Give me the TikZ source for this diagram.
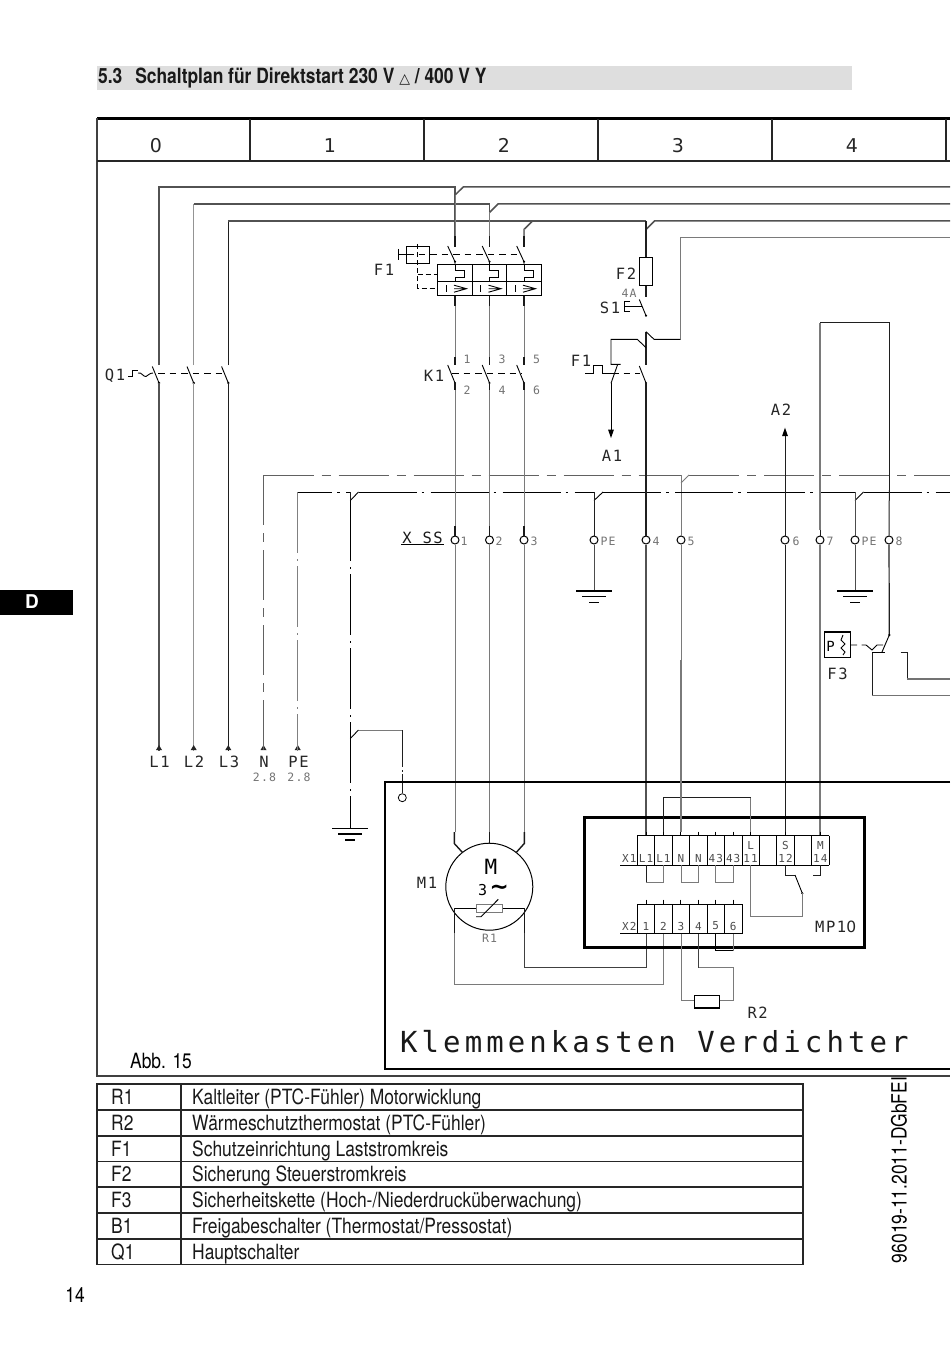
\documentclass[tikz,border=0pt]{standalone}
\usepackage{fontspec}
\usetikzlibrary{calc}
\setmainfont{TeX Gyre Heros}
\newfontfamily\narrowf[FakeStretch=0.83]{TeX Gyre Heros}
\newfontfamily\cad[LetterSpace=10]{DejaVu Sans Mono}
\newfontfamily\cadk[LetterSpace=14]{DejaVu Sans Mono}
\newfontfamily\cadz{DejaVu Sans}
\tikzset{
  wk/.style={draw=black!88,line width=1pt},
  wd/.style={draw=black!68,line width=1.5pt},
  wg/.style={draw=black!52,line width=1pt},
  wgg/.style={draw=black!42,line width=1.4pt},
  tick/.style={draw=black!90,line width=1.4pt},
  sym/.style={draw=black,line width=.9pt},
  symdash/.style={draw=black,line width=.9pt,dash pattern=on 6.5pt off 5pt},
  nline/.style={draw=black!62,line width=.9pt,dash pattern=on 50pt off 8pt on 9pt off 8pt},
  peline/.style={draw=black,line width=1pt,dash pattern=on 58pt off 5pt on 2.5pt off 6.5pt},
  pevert/.style={draw=black,line width=1pt,dash pattern=on 61pt off 6pt on 2pt off 5pt},
  lab/.style={inner sep=0pt,font=\cad\fontsize{15.5}{15.5}\selectfont,text=black!85},
  small/.style={inner sep=0pt,font=\cad\fontsize{11.5}{11.5}\selectfont,text=black!55},
  cell/.style={inner sep=0pt,font=\cad\fontsize{11}{11}\selectfont,text=black!70},
  term/.style={circle,draw=black,line width=1pt,fill=white,inner sep=0pt,minimum size=8pt},
  rowtxt/.style={anchor=base west,inner sep=0pt,font=\narrowf\fontsize{21}{21}\selectfont,text=black!90},
}
\begin{document}
\begin{tikzpicture}[x=1pt,y=-1pt]
\useasboundingbox (0,0) rectangle (950,1348);
% --- page furniture
\fill[black!13] (97,66) rectangle (852,90);
\node[anchor=base west,inner sep=0pt,font=\narrowf\bfseries\fontsize{21}{21}\selectfont,text=black!90] (title) at (98,84) {5.3\hspace{8pt} Schaltplan für Direktstart 230 V {\cadz\fontsize{14}{14}\selectfont △} / 400 V Y};
\fill[black] (0,590) rectangle (73,615);
\node[inner sep=0pt,text=white,font=\bfseries\fontsize{19}{19}\selectfont] (tabD) at (32,602) {D};
\node[inner sep=0pt,font=\narrowf\fontsize{21}{21}\selectfont] (pageno) at (75,1295) {14};
\node[inner sep=0pt,font=\narrowf\fontsize{21}{21}\selectfont] (abb) at (161,1061) {Abb. 15};
\node[rotate=90,inner sep=0pt,font=\narrowf\fontsize{21}{21}\selectfont] (docid) at (899,1170) {96019-11.2011-DGbFEI};
% --- frame
\draw[black,line width=3pt] (97,119) -- (950,119);
\draw[black!75,line width=1.4pt] (97,118) -- (97,1076) -- (950,1076);
\draw[black!85,line width=1.3pt] (97,161) -- (950,161);
\foreach \x in {250,424,598,772,946} \draw[black!85,line width=1.3pt] (\x,119) -- (\x,161);
\foreach \x/\d in {156/0,330/1,504/2,678/3,852/4}
  \node[inner sep=0pt,font=\cadz\fontsize{19}{19}\selectfont,text=black!85] (col\d) at (\x,145.5) {\d};
% --- terminals of X SS
\foreach \n/\x in {1/455,2/489.5,3/524,pa/594,4/646,5/681,6/785,7/820,pb/855,8/889}
  \node[term] (t\n) at (\x,540) {};
\foreach \n/\x/\t in {1/464/1,2/499/2,3/534/3,pa/608/PE,4/656/4,5/691/5,6/796/6,7/830/7,pb/869/PE,8/899/8}
  \node[small] (lt\n) at (\x,541) {\t};
\node[lab,text=black!90] (xss) at (422.5,538) {X SS};
\draw[sym] (401,544.7) -- (444,544.7);
% --- named wiring points
\coordinate (busA) at (950,187); \coordinate (busB) at (950,204); \coordinate (busC) at (950,221);
\coordinate (q1) at (159,383); \coordinate (q2) at (193.7,383); \coordinate (q3) at (228.3,383);
\coordinate (k1) at (455,383); \coordinate (k2) at (489.5,383); \coordinate (k3) at (524,383);
\coordinate (k4) at (646,383);
\coordinate (ep1) at (159,751); \coordinate (ep2) at (193.7,751); \coordinate (ep3) at (228.3,751);
\coordinate (epN) at (263.5,751); \coordinate (epPE) at (297.7,751);
% --- three-phase buses
\draw[wd] (159,365) -- (159,187) -- (455,187) -- (455,237);
\draw[wd] (455,195) -- (463.3,187) -- (busA);
\draw[wgg] (193.7,365) -- (193.7,204);
\draw[wd] (193.7,204) -- (489.5,204) -- (489.5,237);
\draw[wd] (489.5,212.5) -- (498,204) -- (busB);
\draw[wk] (228.3,365) -- (228.3,221);
\draw[wd] (228.3,221) -- (646,221);
\draw[wd] (524,237) -- (524,229.5) -- (532.5,221);
\draw[wd] (646,229.5) -- (654.5,221) -- (busC);
\draw[wg] (455,195) -- (455,237) (489.5,212) -- (489.5,237) (524,229) -- (524,237);
% --- Q1
\foreach \n in {1,2,3} {
  \draw[sym] ($(q\n)+(-6.7,-16.5)$) -- (q\n);
  \fill[black] (q\n) circle (1.3pt);
}
\draw[symdash] (158,373.5) -- (222,373.5);
\node[lab] (Q1l) at (115,376) {Q1};
\draw[sym] (128,376) -- (132,376) -- (132,370) -- (138,370);
\draw[sym] (138,373) .. controls (142,372) and (143,377) .. (146,376.5) .. controls (148,376) and (149,373) .. (153,373);
\draw[wd] (q1) -- (ep1);
\draw[wgg] (q2) -- (ep2);
\draw[wk,line width=1.3pt] (q3) -- (ep3);
\foreach \n in {1,2,3,N,PE} \fill[black!85] ($(ep\n)+(0,-6)$) -- ++(3,5) -- ++(-6,0) -- cycle;
\foreach \n/\x/\t in {1/159.5/L1,2/194/L2,3/229/L3,N/264/N,PE/298.5/PE}
  \node[lab] (lbl\n) at (\x,762) {\t};
\node[small] (nref) at (264.5,777) {2.8};
\node[small] (pref) at (299,777) {2.8};
% --- F1 overload relay
\foreach \n/\x in {1/455,2/489.5,3/524} {
  \draw[tick] (\x,236.5) -- (\x,247);
  \draw[sym] (\x-7.3,246) -- (\x,261.7) -- (\x,264.7);
  \fill[black] (\x,261.7) circle (1.2pt);
  \draw[sym] (\x,264.7) -- (\x,270) -- (\x+9,270) -- (\x+9,277.3) -- (\x,277.3) -- (\x,281.7);
  \draw[sym] (\x-9,285) -- (\x-9,292.3);
  \draw[sym] (\x-1,285.2) -- (\x+11.5,288.7) -- (\x-1,292.2) (\x-1,288.7) -- (\x+11.5,288.7);
  \draw[tick] (\x,295.7) -- (\x,305.7);
  \draw[wg] (\x,305.7) -- (\x,357);
  \draw[tick] (\x,357) -- (\x,365);
  \draw[sym] (\x-7.3,365) -- (\x,383);
  \fill[black] (\x,383) circle (1.2pt);
  \draw[tick] (\x,383) -- (\x,390);
}
\draw[sym] (437.3,264.7) rectangle (541.7,295.7);
\draw[sym] (437.3,281.7) -- (541.7,281.7);
\draw[sym] (472.3,264.7) -- (472.3,295.7) (506.7,264.7) -- (506.7,295.7);
\draw[sym] (406.7,246) rectangle (429.3,263.3);
\draw[sym] (398.3,249) -- (398.3,260) (398.3,254.3) -- (406.7,254.3);
\draw[symdash] (407,254.3) -- (517,254.3);
\draw[sym,dash pattern=on 5pt off 3pt] (417.7,244) -- (417.7,288) -- (437.3,288);
\draw[sym,dash pattern=on 5pt off 3pt] (417.7,274) -- (437.3,274);
\node[lab] (F1a) at (384,270) {F1};
\node[lab] (K1l) at (434,376) {K1};
\draw[symdash] (452,373.5) -- (522,373.5);
\foreach \x/\a/\b in {467/1/2,502/3/4,536.5/5/6} {
  \node[small] at (\x,359) {\a};
  \node[small] at (\x,390.5) {\b};
}
% --- F2, S1, F1 auxiliary
\draw[wk,line width=1.2pt] (646,221) -- (646,296.5);
\node[lab] (F2l) at (626,274) {F2};
\draw[sym,fill=white] (639.3,257.7) rectangle (652.7,285.7);
\node[small] (F2v) at (629,293.5) {4A};
\node[lab] (S1l) at (610,307.5) {S1};
\draw[sym] (630,301) -- (624,301) -- (624,311) -- (630,311) (624,306) -- (641.5,306);
\draw[sym] (639.3,299.5) -- (646,315.7);
\fill[black] (646,315.7) circle (1.2pt);
\draw[wk,line width=1.2pt] (646,331.7) -- (646,365);
\draw[sym] (646,331.7) -- (654,339.3) -- (680.7,339.3);
\draw[wg] (680.7,339.3) -- (680.7,237.7) -- (950,237.7);
\draw[sym] (646,347.7) -- (637.3,339.3) -- (611,339.3) -- (611,364.3) -- (620.7,364.3);
\draw[sym] (617.7,364.3) -- (611,383.3);
\draw[sym] (611,383.3) -- (611,432);
\fill[black] (611,438) -- ++(-3,-8.5) -- ++(6,0) -- cycle;
\node[lab] (A1l) at (612,456) {A1};
\node[lab] (F1b) at (581,361) {F1};
\draw[sym] (585,373.3) -- (593.3,373.3) -- (593.3,365) -- (602.7,365) -- (602.7,373.3) -- (612,373.3);
\draw[symdash] (612,373.3) -- (640,373.3);
\draw[sym] (639.3,366) -- (646,383);
\fill[black] (646,383) circle (1.2pt);
% --- N and PE rails
\draw[nline] (263.5,475) -- (681,475);
\draw[nline] (689,475) -- (950,475);
\draw[nline] (263.5,475) -- (epN);
\draw[wg] (681,483) -- (689,475);
\draw[wg] (681,475) -- (t5);
\draw[wg] (t5) -- (681,660);
\draw[peline,dash phase=24] (298,492) -- (350,492);
\draw[peline] (358.5,492) -- (594,492);
\draw[peline] (603,492) -- (855,492);
\draw[peline] (863.5,492) -- (950,492);
\draw[sym] (350.3,500.5) -- (358.5,492);
\draw[sym] (594,500.5) -- (603,492);
\draw[sym] (855,500.5) -- (863.5,492);
\draw[pevert,draw=black!50,line width=1.4pt] (297.7,492) -- (epPE);
\draw[wk] (350.3,492) -- (350.3,500);
\draw[pevert] (350.3,500) -- (350.3,829);
\draw[wk] (594,492) -- (tpa);
\draw[wk,draw=black!70] (855,492) -- (tpb);
\draw[wk,draw=black!70] (tpa) -- (594,591);
\draw[wk,draw=black!70] (tpb) -- (855,591);
\foreach \x/\y in {594/591,855/591,350.3/828.5} {
  \draw[sym,line width=1.1pt] (\x-18,\y) -- (\x+18,\y);
  \draw[sym,line width=1.1pt] (\x-12,\y+5.5) -- (\x+12,\y+5.5);
  \draw[sym,line width=1.1pt] (\x-5,\y+11.5) -- (\x+5,\y+11.5);
}
\draw[sym] (350.3,738.5) -- (358.5,730);
\draw[wg] (358.5,730) -- (402.3,730);
\node[term,line width=.8pt] (pebolt) at (402.3,797.7) {};
\draw[wk,dash pattern=on 37pt off 3pt on 2pt off 2pt on 40pt] (402.3,730) -- (pebolt);
% --- phase wires to motor
\foreach \n/\x in {1/455,2/489.5,3/524} {
  \draw[wg] (\x,390) -- (t\n);
  \draw[wg] (t\n) -- (\x,832);
  \draw[tick] (\x,526) -- (t\n);
}
% --- control verticals
\draw[wk,line width=1.2pt] (k4) -- (t4);
\draw[wd,line width=1.4pt] (t4) -- (646,836);
\draw[wk] (785,435) -- (t6);
\draw[wk] (t6) -- (785,835.7);
\fill[black] (785,427.7) -- ++(-3,8.5) -- ++(6,0) -- cycle;
\node[lab] (A2l) at (781,410) {A2};
\draw[wg,line width=1.2pt] (820,530) -- (820,322.7);
\draw[wk] (820,322.7) -- (889.3,322.7) -- (889.3,490);
\draw[wk] (889.3,490) -- (t8);
\draw[wg,line width=1.2pt] (t7) -- (820,835.7);
\draw[wk] (820,530) -- (t7);
\draw[wk,line width=1.2pt] (t8) -- (889.3,635);
% --- F3
\draw[sym,line width=1.1pt] (824.3,632) rectangle (850.7,657.7);
\node[inner sep=0pt,font=\cad\fontsize{14}{14}\selectfont] (F3p) at (830.5,646) {P};
\draw[sym] (843,635) -- (841,640) -- (845,644) -- (841,648) -- (845,652) -- (843,655);
\draw[sym] (850.7,645) -- (857,645) (861.7,645) -- (866,645) -- (872,650) -- (877,645) -- (883,645);
\draw[sym] (889.3,635) -- (881.7,652.7);
\fill[black] (889.3,635) circle (1.3pt);
\draw[sym] (872.3,652.7) -- (885,652.7);
\draw[wk] (872.3,652.7) -- (872.3,695.7);
\draw[wgg,draw=black!55] (872.3,695.7) -- (950,695.7);
\draw[wk] (900.7,652) -- (907.3,652) -- (907.3,679);
\draw[wgg,draw=black!55] (907.3,679) -- (950,679);
\node[lab] (F3l) at (837.5,673.5) {F3};
% --- compressor terminal box
\draw[black,line width=2.5pt] (950,782) -- (385,782) -- (385,1069) -- (950,1069);
\node[anchor=west,inner sep=0pt,font=\cadk\fontsize{29}{29}\selectfont,text=black!90] (kk) at (400,1042) {Klemmenkasten Verdichter};
% --- motor
\node[circle,draw=black,line width=1pt,minimum size=87pt,inner sep=0pt] (M1) at (489.3,886.7) {};
\draw[tick] (454.3,832) -- (454.3,843.5) -- (462.7,852.7);
\draw[tick,line width=1.2pt] (489.5,832) -- (489.5,844);
\draw[tick] (524.3,832) -- (524.3,843.5) -- (516,852.7);
\node[inner sep=0pt,font=\cad\fontsize{21}{21}\selectfont] (Mm) at (491,867) {M};
\node[inner sep=0pt,font=\cad\fontsize{15}{15}\selectfont] (M3) at (482.7,890) {3};
\node[inner sep=0pt,font=\cadz\bfseries\fontsize{23}{23}\selectfont] (Mt) at (499.3,890) {\textasciitilde};
\node[lab] (M1l) at (427,883) {M1};
\draw[sym] (454.3,908.3) -- (524.3,908.3);
\draw[wg,fill=white] (476.7,904) rectangle (502.7,912.3);
\draw[sym] (476,916.7) -- (481,916.7) -- (498.3,899.3);
\node[small] (R1l) at (489.5,938) {R1};
\draw[tick] (454.3,908.3) -- (454.3,933.3);
\draw[tick,line width=1.2pt] (524.3,908.3) -- (524.3,933.3);
\draw[wg] (454.3,933.3) -- (454.3,984) -- (663.4,984) -- (663.4,933.7);
\draw[wk,draw=black!75] (524.3,933.3) -- (524.3,967.7) -- (646,967.7) -- (646,933.7);
% --- MP10
\draw[black,line width=3pt] (584.3,817.7) rectangle (864.3,947.3);
\node[lab] (MP) at (835.7,926.7) {MP1{\cadz 0}};
\foreach \i/\t in {0/L1,1/L1,2/N,3/N,4/43,5/43,6/11,8/12,10/14} {
  \pgfmathsetmacro\xc{646+17.44*\i}
  \node[cell] at (\xc,858) {\t};
}
\node[cell] (Lh) at (750.6,845) {L};
\node[cell] (Sh) at (785.5,845) {S};
\node[cell] (Mh) at (820.4,845) {M};
\foreach \i in {0,...,6,8,10} {
  \pgfmathsetmacro\xc{646+17.44*\i}
  \draw[sym] (\xc,831.7) -- (\xc,835.7);
}
\foreach \i in {0,...,11} {
  \pgfmathsetmacro\xc{637.3+17.44*\i}
  \draw[sym] (\xc,835.7) -- (\xc,865.3);
}
\draw[sym] (637.3,835.7) -- (829,835.7);
\draw[sym] (620,865.3) -- (829,865.3);
\node[cell] (X1l) at (629.3,858) {X1};
\foreach \i/\t in {0/1,1/2,2/3,3/4,4/5,5/6} {
  \pgfmathsetmacro\xc{646+17.44*\i}
  \node[cell] at (\xc,926) {\t};
  \draw[sym] (\xc,899.5) -- (\xc,904);
}
\foreach \i in {0,...,6} {
  \pgfmathsetmacro\xc{637.3+17.44*\i}
  \draw[sym] (\xc,904) -- (\xc,933.7);
}
\draw[sym] (637.3,904) -- (742,904);
\draw[sym] (620,933.7) -- (742,933.7);
\node[cell] (X2l) at (629.3,926) {X2};
\draw[wk] (646,865.3) -- (646,882.3);
\draw[wg] (646,882.3) -- (663.4,882.3) -- (663.4,865.3);
\draw[wg] (681,865.3) -- (681,882.3) -- (698.4,882.3) -- (698.4,865.3);
\draw[wg] (715.7,865.3) -- (715.7,882.3) -- (733,882.3) -- (733,865.3);
\draw[wk] (663.4,831.7) -- (663.4,797.7) -- (750.6,797.7);
\draw[wg] (750.6,797.7) -- (750.6,831.7);
\draw[wg,line width=1.1pt] (681,660) -- (681,831.7);
\draw[wk] (785,865.3) -- (785,875.7) -- (795,875.7);
\draw[sym] (795,875) -- (802.3,893.3);
\fill[black] (802.3,893.3) circle (1.2pt);
\draw[wg] (802.3,893.3) -- (802.3,916.7) -- (750.7,916.7) -- (750.7,865.3);
\draw[wk] (820,865.3) -- (820,875.7) -- (813.3,875.7);
\draw[sym,line width=1.2pt] (715.7,933.7) -- (715.7,950.7) -- (733,950.7);
\draw[wg] (733,950.7) -- (733,933.7);
\draw[wg] (681,933.7) -- (681,1000.7) -- (694.3,1000.7);
\draw[sym,line width=1.1pt] (694.3,995.7) rectangle (719.7,1008);
\draw[wg] (719.7,1000.7) -- (733.3,1000.7) -- (733.3,967.7) -- (698.3,967.7);
\draw[wk,draw=black!75] (698.3,967.7) -- (698.3,933.7);
\node[lab] (R2l) at (757.7,1013) {R2};
% --- legend table
\draw[black!85,line width=1.4pt] (97,1084) rectangle (803,1264.5);
\foreach \y in {1110,1136,1161.5,1187,1213,1239} \draw[black!85,line width=1.4pt] (97,\y) -- (803,\y);
\draw[black!85,line width=1.4pt] (181,1084) -- (181,1264.5);
\foreach \n/\y/\a/\b in {
  r1/1104.5/R1/{Kaltleiter (PTC-Fühler) Motorwicklung},
  r2/1130/R2/{Wärmeschutzthermostat (PTC-Fühler)},
  r3/1156/F1/{Schutzeinrichtung Laststromkreis},
  r4/1181.5/F2/{Sicherung Steuerstromkreis},
  r5/1207.5/F3/{Sicherheitskette (Hoch-/Niederdrucküberwachung)},
  r6/1233.5/B1/{Freigabeschalter (Thermostat/Pressostat)},
  r7/1259.5/Q1/{Hauptschalter}} {
  \node[rowtxt] (\n a) at (111,\y) {\a};
  \node[rowtxt] (\n b) at (192,\y) {\b};
}
\end{tikzpicture}
\end{document}
